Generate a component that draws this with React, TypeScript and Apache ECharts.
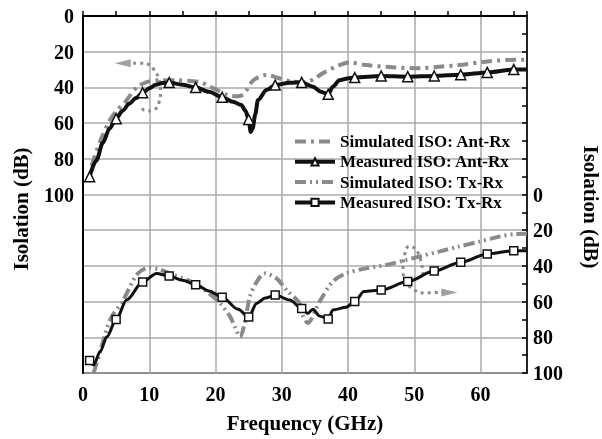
import React, { useEffect, useRef } from "react";
import * as echarts from "echarts";

const FONT = "serif";

// Frequencies (GHz) carrying a marker on measured curves
const markerFreqs = [1, 5, 9, 13, 17, 21, 25, 29, 33, 37, 41, 45, 49, 53, 57, 61, 65];

// Upper panel (left axis, dB)
const simAntRx: [number, number][] = [
  [1.3, 84], [2.6, 70], [4.1, 58], [5.1, 53], [6.4, 48], [8.1, 40], [9.6, 37], [11.4, 36],
  [14, 36], [17.6, 37], [19.1, 39.5], [20.5, 42], [22, 44.5], [23.2, 45], [24.2, 44],
  [24.7, 41.5], [25.7, 36], [27.7, 33], [29.7, 35], [31.7, 36.8], [33.5, 37], [35, 35],
  [36.2, 32], [38.7, 27.5], [40.2, 26], [42.7, 27.5], [46.7, 28.7], [50.7, 29.3],
  [53.7, 28.4], [56.7, 27.5], [60.7, 25.6], [64.3, 24.6], [67, 24.5],
];

const measAntRx: [number, number][] = [
  [1, 90], [2, 81], [3, 71], [4, 63], [5, 57.5], [6, 53], [7, 49], [8, 46], [9, 43],
  [10, 40.5], [11, 38.5], [12, 37.6], [13, 37.3], [15, 38.5], [17, 40], [19, 42.5],
  [21, 45.5], [22.6, 48], [23.9, 49.9], [24.5, 53], [25, 58], [25.3, 65], [25.6, 63],
  [26, 55], [26.4, 47], [27.7, 41.5], [29, 38.7], [31.2, 37.4], [33, 37.2], [34.7, 39.6],
  [35.9, 42.4], [37, 43.9], [37.7, 39.6], [38.7, 36], [39.9, 35], [41, 34.5], [45, 33.6],
  [49, 34], [53, 33.6], [57, 32.9], [61, 31.6], [65, 30], [67, 30],
];

// Lower panel (right axis, dB)
const simTxRx: [number, number][] = [
  [1.6, 100], [2.6, 88], [4.1, 70], [6.1, 59], [8.1, 45], [9.9, 41], [11.6, 42], [13.6, 45],
  [16.4, 49], [18.7, 54.4], [20.7, 61], [22.2, 68.4], [22.9, 74], [23.7, 79.7], [24.4, 72],
  [25.2, 57], [26.2, 49], [27.4, 44.2], [29.2, 47], [30.7, 53.5], [32.7, 61], [33.2, 68],
  [33.9, 72], [35.7, 60], [37.7, 48.8], [39.7, 44.2], [42.7, 41.4], [45.7, 39.5],
  [48.7, 36.7], [50.7, 34.8], [53.7, 32], [56.7, 29.2], [59.8, 26.4], [62.8, 23.6],
  [65.3, 22.1], [67, 22],
];

const measTxRx: [number, number][] = [
  [1, 93], [1.6, 95.5], [2.6, 88], [3.6, 79.7], [5, 70], [6.6, 59], [9, 49], [11.1, 44.2],
  [13, 45.7], [15, 48], [17, 50.5], [19, 54], [21, 57.6], [23.4, 64.3], [25, 68.6],
  [26.2, 61], [27.5, 58], [29, 56.3], [31.2, 59.1], [33, 63.8], [33.9, 66.6], [34.7, 64.3],
  [35.7, 68], [37, 69.8], [37.7, 64.7], [39.7, 63.2], [41, 60], [42.4, 54.4], [45, 53.5],
  [49, 48.8], [53, 42.9], [57, 38], [61, 33.3], [65, 31.5], [67, 31.5],
];

// Annotation arrows
const antArrowPath: [number, number][] = [
  [8.9, 51.7], [9.5, 53.2], [10.6, 52.7], [11.5, 48], [11.7, 41.5], [11.4, 35], [10.7, 30],
  [9.8, 27], [8.6, 26.5], [7.1, 26.5],
];
const antArrowHead: [number, number][] = [[6.0, 26.5]];
const txArrowPath: [number, number][] = [
  [51.3, 45], [50.6, 33], [49.3, 29], [48.5, 34.5], [48.3, 42.3], [48.9, 49.6], [50, 53.5],
  [51.5, 55.2], [53, 54.9], [54.3, 54.9],
];
const txArrowHead: [number, number][] = [[55.3, 54.9]];

const GRAY = "#8a8a8a";
const BLACK = "#111";
const SIM_ANT_DASH = [11, 5, 3, 5];
const SIM_TX_DASH = [11, 4, 2, 4, 2, 4];

function withMarkers(data: [number, number][]) {
  return data.map(([x, y]) =>
    markerFreqs.includes(x) ? { value: [x, y] } : { value: [x, y], symbol: "none" }
  );
}

export default function App() {
  const ref = useRef<HTMLDivElement>(null);
  useEffect(() => {
    if (!ref.current) return;
    const chart = echarts.init(ref.current, undefined, { renderer: "svg" });
    const labelStyle = { color: "#000", fontFamily: FONT, fontWeight: "bold", fontSize: 20 };
    const hiddenSym = { color: "rgba(0,0,0,0)", borderColor: "rgba(0,0,0,0)", borderWidth: 0 };
    chart.setOption({
      animation: false,
      textStyle: { fontFamily: FONT },
      grid: { left: 83, right: 75, top: 16, bottom: 66, show: true, borderColor: "#000", borderWidth: 1.5 },
      legend: {
        orient: "vertical",
        left: 293,
        top: 133,
        padding: 0,
        itemWidth: 40,
        itemHeight: 9,
        itemGap: 3.3,
        data: [
          { name: "Simulated ISO: Ant-Rx", itemStyle: hiddenSym, lineStyle: { width: 4, type: SIM_ANT_DASH, color: GRAY } },
          { name: "Measured ISO: Ant-Rx", lineStyle: { width: 4, color: BLACK } },
          { name: "Simulated ISO: Tx-Rx", itemStyle: hiddenSym, lineStyle: { width: 4, type: SIM_TX_DASH, color: GRAY } },
          { name: "Measured ISO: Tx-Rx", lineStyle: { width: 4, color: BLACK } },
        ],
        textStyle: { color: "#000", fontFamily: FONT, fontWeight: "bold", fontSize: 17 },
      },
      xAxis: {
        type: "value",
        min: 0,
        max: 67,
        interval: 10,
        name: "Frequency (GHz)",
        nameLocation: "middle",
        nameGap: 39,
        nameTextStyle: { color: "#000", fontFamily: FONT, fontWeight: "bold", fontSize: 21 },
        axisLine: { lineStyle: { color: "#000", width: 2 } },
        axisTick: { show: true, inside: true, length: 5, lineStyle: { color: "#000", width: 1.5 } },
        minorTick: { show: true, splitNumber: 2, length: 5, lineStyle: { color: "#000", width: 1.5 } },
        axisLabel: { ...labelStyle, margin: 11, formatter: (v: number) => (v % 10 === 0 ? String(v) : "") },
        splitLine: { show: true, lineStyle: { color: "#aaa", width: 1.5 } },
      },
      yAxis: [
        {
          type: "value",
          inverse: true,
          min: 0,
          max: 200,
          interval: 20,
          axisLine: { show: true, lineStyle: { color: "#000", width: 2 } },
          axisTick: { show: false },
          axisLabel: { ...labelStyle, margin: 9, formatter: (v: number) => (v <= 100 ? String(v) : "") },
          splitLine: { show: true, lineStyle: { color: "#aaa", width: 1.5 } },
        },
        {
          type: "value",
          position: "right",
          inverse: true,
          min: -100,
          max: 100,
          interval: 20,
          axisLine: { show: true, lineStyle: { color: "#000", width: 1.5 } },
          axisTick: { show: true, inside: true, length: 5, lineStyle: { color: "#000", width: 1.5 } },
          minorTick: { show: true, splitNumber: 2, length: 5, lineStyle: { color: "#000", width: 1.5 } },
          axisLabel: { ...labelStyle, margin: 6, formatter: (v: number) => (v >= 0 ? String(v) : "") },
          splitLine: { show: false },
        },
      ],
      graphic: [
        {
          type: "text",
          x: 21,
          y: 209,
          rotation: Math.PI / 2,
          style: {
            text: "Isolation (dB)",
            fill: "#000",
            font: "bold 21px serif",
            textAlign: "center",
            textVerticalAlign: "middle",
          },
        },
        {
          type: "text",
          x: 591,
          y: 207,
          rotation: -Math.PI / 2,
          style: {
            text: "Isolation (dB)",
            fill: "#000",
            font: "bold 21px serif",
            textAlign: "center",
            textVerticalAlign: "middle",
          },
        },
      ],
      series: [
        {
          name: "Simulated ISO: Ant-Rx",
          type: "line",
          yAxisIndex: 0,
          data: simAntRx,
          symbol: "none",
          smooth: 0.3,
          lineStyle: { color: GRAY, width: 4, type: SIM_ANT_DASH },
          itemStyle: { color: GRAY },
          z: 2,
        },
        {
          name: "Measured ISO: Ant-Rx",
          type: "line",
          yAxisIndex: 0,
          data: withMarkers(measAntRx),
          symbol: "triangle",
          symbolSize: 10,
          smooth: 0.3,
          smoothMonotone: "x",
          lineStyle: { color: BLACK, width: 4 },
          itemStyle: { color: "#fff", borderColor: BLACK, borderWidth: 1.5 },
          z: 3,
        },
        {
          name: "Simulated ISO: Tx-Rx",
          type: "line",
          yAxisIndex: 1,
          data: simTxRx,
          symbol: "none",
          smooth: 0.3,
          lineStyle: { color: GRAY, width: 4, type: SIM_TX_DASH },
          itemStyle: { color: GRAY },
          z: 2,
        },
        {
          name: "Measured ISO: Tx-Rx",
          type: "line",
          yAxisIndex: 1,
          data: withMarkers(measTxRx),
          symbol: "rect",
          symbolSize: 8,
          smooth: 0.3,
          smoothMonotone: "x",
          lineStyle: { color: BLACK, width: 3 },
          itemStyle: { color: "#fff", borderColor: BLACK, borderWidth: 1.5 },
          z: 3,
        },
        {
          name: "antArrow",
          type: "line",
          yAxisIndex: 0,
          data: antArrowPath,
          symbol: "none",
          smooth: 0.5,
          lineStyle: { color: GRAY, width: 3, type: [3, 4] },
          z: 1,
        },
        {
          name: "antArrowHead",
          type: "scatter",
          yAxisIndex: 0,
          data: antArrowHead,
          symbol: "triangle",
          symbolSize: [8, 16],
          symbolRotate: 90,
          itemStyle: { color: GRAY },
          z: 1,
        },
        {
          name: "txArrow",
          type: "line",
          yAxisIndex: 1,
          data: txArrowPath,
          symbol: "none",
          smooth: 0.5,
          lineStyle: { color: GRAY, width: 3, type: [3, 4] },
          z: 1,
        },
        {
          name: "txArrowHead",
          type: "scatter",
          yAxisIndex: 1,
          data: txArrowHead,
          symbol: "triangle",
          symbolSize: [8, 16],
          symbolRotate: -90,
          itemStyle: { color: GRAY },
          z: 1,
        },
      ],
    });
    return () => chart.dispose();
  }, []);
  return <div ref={ref} style={{ position: "fixed", left: 0, top: 0, width: 602, height: 439 }} />;
}
